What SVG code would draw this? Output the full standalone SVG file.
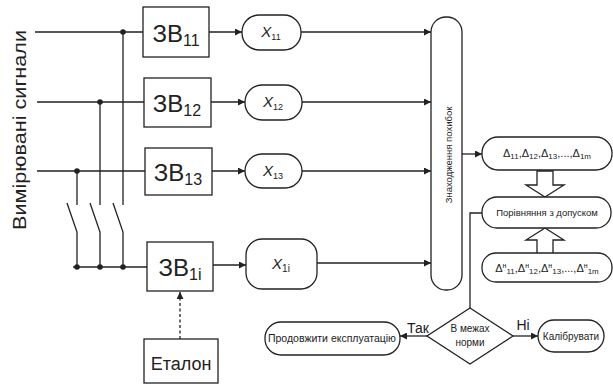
<svg xmlns="http://www.w3.org/2000/svg" width="613" height="385" viewBox="0 0 613 385">
<defs>
<marker id="ah" viewBox="0 0 10 10" refX="10" refY="5" markerWidth="7" markerHeight="7" markerUnits="userSpaceOnUse" orient="auto">
<path d="M0,0 L10,5 L0,10 z" fill="#222"/>
</marker>
<style>
.s{fill:none;stroke:#222;stroke-width:1.3}
.b{fill:#fff;stroke:#222;stroke-width:1.3}
.a{fill:none;stroke:#222;stroke-width:1.3;marker-end:url(#ah)}
.t{font-family:"Liberation Sans",Arial,sans-serif;fill:#222}
.zv{font-size:24px;text-anchor:middle}
.x{font-size:15px;font-style:italic;text-anchor:middle}
.sm{font-size:10px;text-anchor:middle}
</style>
</defs>
<rect width="613" height="385" fill="#fff"/>
<text class="t" transform="translate(26,130) rotate(-90)" font-size="18" text-anchor="middle" textLength="200" lengthAdjust="spacingAndGlyphs">Вимірювані сигнали</text>
<g id="connectors">
<path class="s" d="M35,32H143 M37,102H144 M37,171H145"/>
<path class="s" d="M123,32V205 M100,102V205 M77,171V205"/>
<path class="s" d="M67,203L77,232V267 M90,203L100,232V267 M113,203L123,232V267"/>
<path class="s" d="M73,267H147"/>
<g fill="#222"><circle cx="123" cy="32" r="2.8"/><circle cx="100" cy="102" r="2.8"/><circle cx="77" cy="171" r="2.8"/><circle cx="77" cy="267" r="2.8"/><circle cx="100" cy="267" r="2.8"/><circle cx="123" cy="267" r="2.8"/></g>
<path class="a" d="M209,32H242"/>
<path class="a" d="M211,102H245"/>
<path class="a" d="M212,171H245"/>
<path class="a" d="M213,265H246"/>
<path class="a" d="M301,32H431"/>
<path class="a" d="M302,102H431"/>
<path class="a" d="M302,171H431"/>
<path class="a" d="M317,263H431"/>
<path class="a" d="M462,154H482"/>
<path class="a" d="M180,339V292" stroke-dasharray="3,2.5"/>
<path class="s" d="M482,213H470V308"/>
<path class="a" d="M427,336H400"/>
<path class="a" d="M513,336H538"/>
<polygon class="b" points="537,171 553,171 553,185 564,185 545,197 526,185 537,185"/>
<polygon class="b" points="537,254 553,254 553,240 564,240 545,228 526,240 537,240"/>
</g>
<g id="zv11"><rect class="b" x="143" y="7" width="66" height="50"/><text class="t zv" x="176" y="42">ЗВ<tspan font-size="16" dy="4">11</tspan></text></g>
<g id="zv12"><rect class="b" x="144" y="78" width="67" height="49"/><text class="t zv" x="177" y="112">ЗВ<tspan font-size="16" dy="4">12</tspan></text></g>
<g id="zv13"><rect class="b" x="145" y="148" width="67" height="47"/><text class="t zv" x="178" y="181">ЗВ<tspan font-size="16" dy="4">13</tspan></text></g>
<g id="zv1i"><rect class="b" x="147" y="242" width="66" height="49"/><text class="t zv" x="180" y="276">ЗВ<tspan font-size="16" dy="4">1i</tspan></text></g>
<g id="etalon"><rect class="b" x="144" y="339" width="74" height="44"/><text class="t" x="181" y="370" font-size="18" text-anchor="middle">Еталон</text></g>
<g id="x11"><rect class="b" x="242" y="15" width="59" height="35" rx="17"/><text class="t x" x="271" y="37">X<tspan font-size="9" font-style="normal" dy="3">11</tspan></text></g>
<g id="x12"><rect class="b" x="245" y="85" width="57" height="35" rx="17"/><text class="t x" x="273" y="107">X<tspan font-size="9" font-style="normal" dy="3">12</tspan></text></g>
<g id="x13"><rect class="b" x="245" y="154" width="57" height="34" rx="17"/><text class="t x" x="273" y="176">X<tspan font-size="9" font-style="normal" dy="3">13</tspan></text></g>
<g id="x1i"><rect class="b" x="246" y="239" width="71" height="50" rx="16"/><text class="t x" x="281" y="269" font-size="16">X<tspan font-size="10" font-style="normal" dy="3">1i</tspan></text></g>
<g id="errors"><rect class="b" x="431" y="17" width="31" height="273" rx="15"/><text class="t" transform="translate(452,155) rotate(-90)" font-size="9.5" text-anchor="middle">Знаходження похибок</text></g>
<g id="deltas"><rect class="b" x="482" y="137" width="130" height="33" rx="16"/><text class="t" x="547" y="157" font-size="11" text-anchor="middle">Δ<tspan font-size="8" dy="2">11</tspan><tspan dy="-2">,Δ</tspan><tspan font-size="8" dy="2">12</tspan><tspan dy="-2">,Δ</tspan><tspan font-size="8" dy="2">13</tspan><tspan dy="-2">,...,Δ</tspan><tspan font-size="8" dy="2">1m</tspan></text></g>
<g id="compare"><rect class="b" x="482" y="197" width="129" height="31" rx="15"/><text class="t" x="547" y="216" font-size="9.5" text-anchor="middle">Порівняння з допуском</text></g>
<g id="norms"><rect class="b" x="482" y="253" width="130" height="29" rx="14"/><text class="t" x="547" y="272" font-size="11" text-anchor="middle">Δ<tspan font-size="7" dy="-4">н</tspan><tspan font-size="8" dy="6">11</tspan><tspan dy="-2">,Δ</tspan><tspan font-size="7" dy="-4">н</tspan><tspan font-size="8" dy="6">12</tspan><tspan dy="-2">,Δ</tspan><tspan font-size="7" dy="-4">н</tspan><tspan font-size="8" dy="6">13</tspan><tspan dy="-2">,...,Δ</tspan><tspan font-size="7" dy="-4">н</tspan><tspan font-size="8" dy="6">1m</tspan></text></g>
<g id="decision"><polygon class="b" points="470,308 513,336 470,364 427,336"/><text class="t sm" x="470" y="332">В межах</text><text class="t sm" x="470" y="346">норми</text></g>
<g id="continue"><rect class="b" x="265" y="322" width="135" height="33" rx="16"/><text class="t" x="332" y="342" font-size="10.5" text-anchor="middle">Продовжити експлуатацію</text></g>
<g id="calibrate"><rect class="b" x="538" y="320" width="66" height="32" rx="16"/><text class="t sm" x="571" y="340">Калібрувати</text></g>
<text class="t" x="418" y="333" font-size="14" text-anchor="middle">Так</text>
<text class="t" x="523" y="330" font-size="14" text-anchor="middle">Ні</text>
</svg>
